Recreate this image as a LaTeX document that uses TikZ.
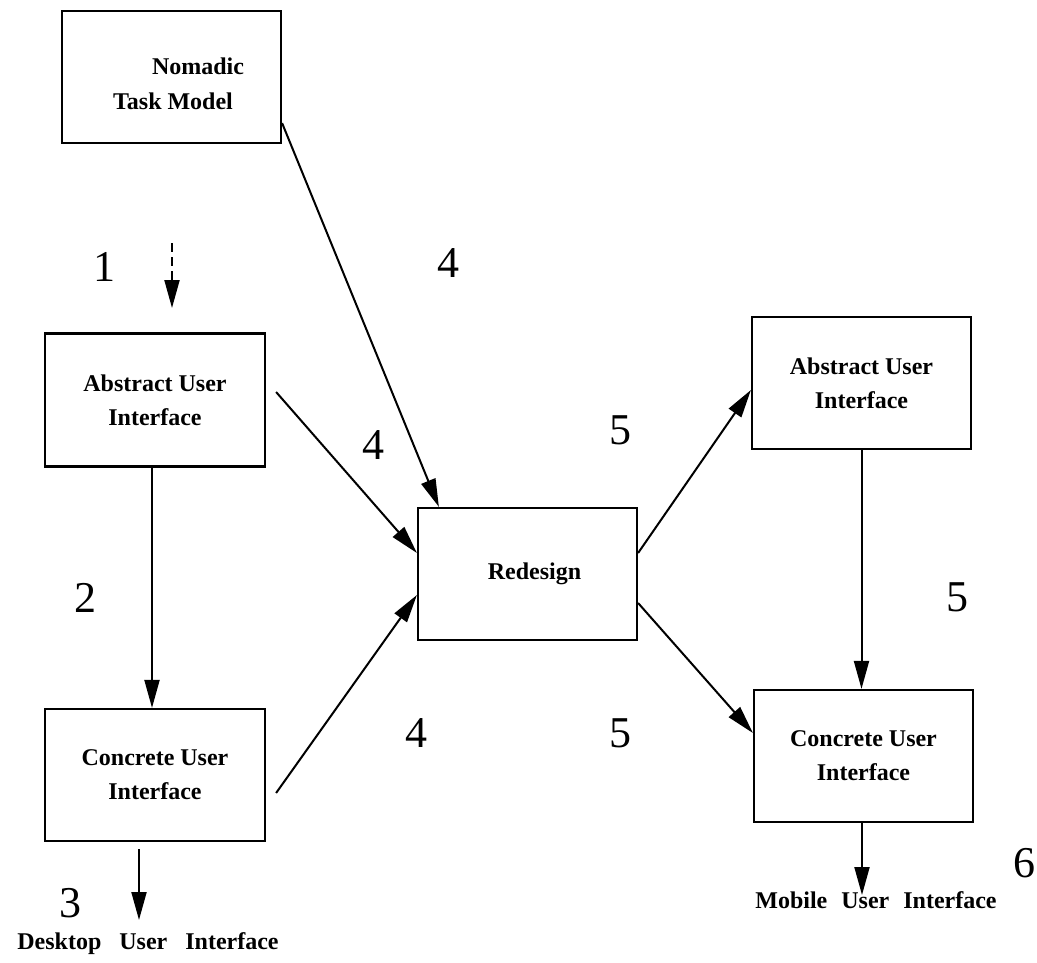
\documentclass[tikz,border=0pt]{standalone}
\usepackage{fontspec}
\setmainfont{Liberation Serif}
\usetikzlibrary{arrows.meta,calc}
\begin{document}
\begin{tikzpicture}[x=1pt,y=-1pt,
  box/.style={draw,line width=2.2pt,minimum width=219pt,minimum height=132pt,
    inner sep=0pt,align=center,font=\fontsize{24}{34}\selectfont\bfseries},
  txt/.style={inner sep=0pt,font=\fontsize{24}{34}\selectfont\bfseries},
  num/.style={inner sep=0pt,font=\fontsize{44}{44}\selectfont},
  conn/.style={line width=2pt,-{Triangle[length=28pt,width=15pt]}}]
\useasboundingbox (0,0) rectangle (1037,962);

% boxes
\node[box] (nm) at (171.5,77) {};
\node[txt] (nm1) at (198,66) {Nomadic};
\node[txt] (nm2) at (173,101) {Task Model};
\node[box,minimum width=220pt,minimum height=133pt] (aul) at (155,400) {Abstract User\\Interface};
\node[box,minimum width=220pt] (cul) at (155,775) {Concrete User\\Interface};
\node[box] (rd) at (527.5,574) {\hspace*{14pt}Redesign};
\node[box] (aur) at (861.5,383) {Abstract User\\Interface};
\node[box] (cur) at (863.5,756) {Concrete User\\Interface};

% outputs
\node[txt] (desk) at (148,944) {Desktop\hspace{18pt}User\hspace{18pt}Interface};
\node[txt] (mob) at (876,900) {Mobile\hspace{14pt}User\hspace{14pt}Interface};
\coordinate (d0) at (172,243);
\coordinate (d1) at (172,308);
\coordinate (deskin) at (139,920);
\coordinate (mobin) at (862,895);

% step numbers
\node[num] (n1) at (104,267) {1};
\node[num] (n4a) at (448,263) {4};
\node[num] (n4b) at (373,445) {4};
\node[num] (n5a) at (620,430) {5};
\node[num] (n2) at (85,598) {2};
\node[num] (n5b) at (957,597) {5};
\node[num] (n4c) at (416,733) {4};
\node[num] (n5c) at (620,733) {5};
\node[num] (n3) at (70,903) {3};
\node[num] (n6) at (1024,863) {6};

% connectors
\draw[conn,dash pattern=on 9pt off 5pt] (d0) -- (d1);
\draw[conn] ($(nm.south east)+(0,-21)$) -- ($(rd.north west)+(22,0)$);
\draw[conn] ($(aul.east)+(10,-8)$) -- ($(rd.west)+(0,-21)$);
\draw[conn] ($(cul.east)+(10,18)$) -- ($(rd.west)+(0,21)$);
\draw[conn] ($(aul.south)+(-3,0)$) -- ($(cul.north)+(-3,0)$);
\draw[conn] ($(rd.east)+(0,-21)$) -- ($(aur.west)+(0,7)$);
\draw[conn] ($(rd.east)+(0,29)$) -- ($(cur.west)+(0,-23)$);
\draw[conn] (aur.south) -- (aur.south |- cur.north);
\draw[conn] ($(cul.south)+(-16,7)$) -- (deskin);
\draw[conn] (cur.south -| mobin) -- (mobin);
\end{tikzpicture}
\end{document}
